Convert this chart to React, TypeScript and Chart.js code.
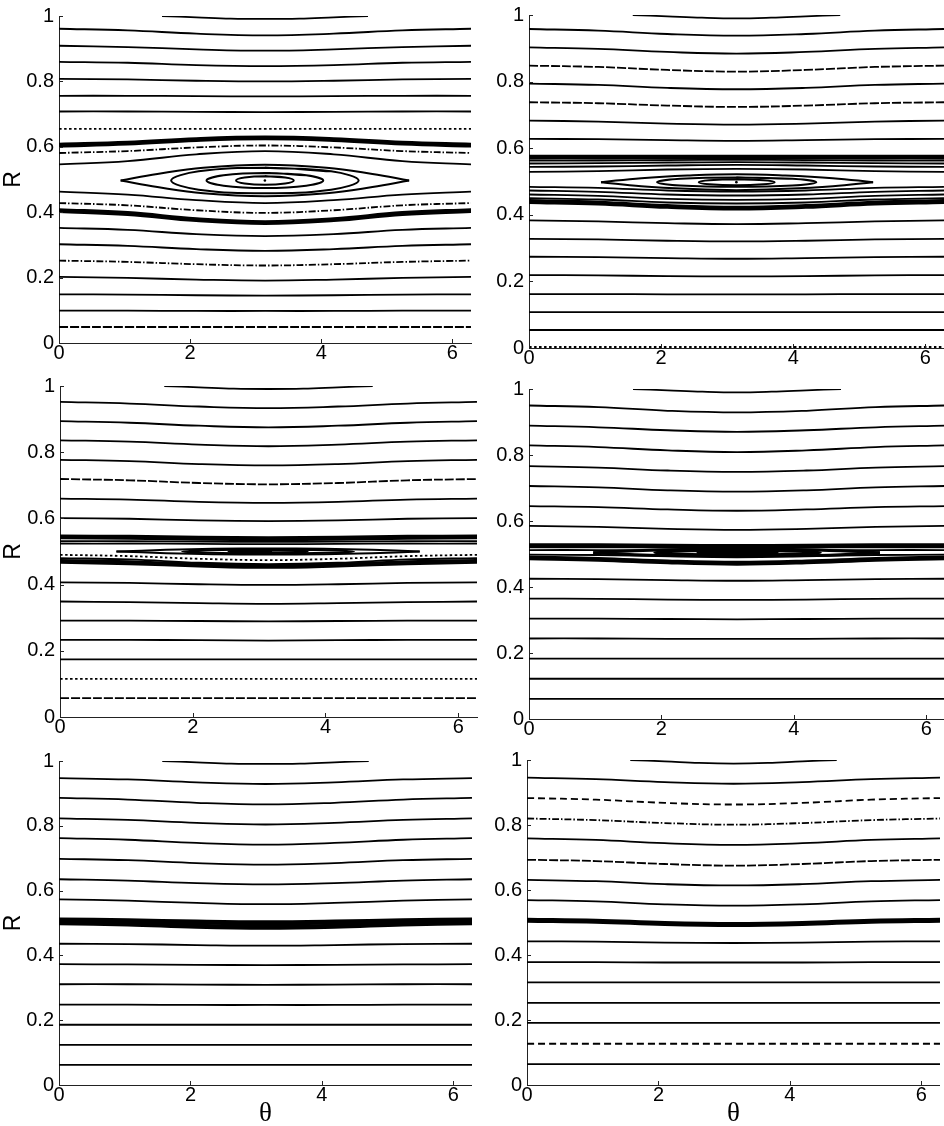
import React, { useEffect, useRef } from 'react';
import { Chart, registerables } from 'chart.js';

Chart.register(...registerables);

// ---------- axes ----------
const TWO_PI = 6.2832;
const X_TICKS = [0, 2, 4, 6];
const X_TICK_LABELS = ['0', '2', '4', '6'];
const Y_TICKS = [0, 0.2, 0.4, 0.6, 0.8, 1];
const Y_TICK_LABELS = ['0', '0.2', '0.4', '0.6', '0.8', '1'];
const Y_TITLE = 'R';
const X_TITLE = 'θ';

// sample angles for the open curves and for the short arc near R = 1
const THETA_LINE = [0, 1.047, 2.094, 3.142, 4.189, 5.236, 6.283];
const THETA_ARC = [1.571, 2.094, 2.618, 3.142, 3.665, 4.189, 4.712];

type Pt = [number, number];

// ---------- panel (a) top-left ----------
const TL_ARC = [1.0, 0.996, 0.992, 0.991, 0.992, 0.996, 1.0];
const TL_SOLID = [
  [0.961, 0.956, 0.946, 0.941, 0.946, 0.956, 0.961],
  [0.909, 0.905, 0.898, 0.894, 0.898, 0.905, 0.909],
  [0.86, 0.857, 0.85, 0.847, 0.85, 0.857, 0.86],
  [0.808, 0.806, 0.802, 0.8, 0.802, 0.806, 0.808],
  [0.756, 0.756, 0.755, 0.754, 0.755, 0.756, 0.756],
  [0.708, 0.708, 0.707, 0.706, 0.707, 0.708, 0.708],
  [0.546, 0.556, 0.577, 0.587, 0.577, 0.556, 0.546],
  [0.463, 0.454, 0.437, 0.428, 0.437, 0.454, 0.463],
  [0.352, 0.346, 0.333, 0.327, 0.333, 0.346, 0.352],
  [0.302, 0.297, 0.287, 0.282, 0.287, 0.297, 0.302],
  [0.202, 0.199, 0.194, 0.191, 0.194, 0.199, 0.202],
  [0.149, 0.148, 0.146, 0.145, 0.146, 0.148, 0.149],
  [0.099, 0.099, 0.098, 0.098, 0.098, 0.099, 0.099],
];
const TL_DOTTED = [[0.655, 0.655, 0.655, 0.655, 0.655, 0.655, 0.655]];
const TL_DASHDOT = [
  [0.581, 0.587, 0.598, 0.604, 0.598, 0.587, 0.581],
  [0.428, 0.421, 0.406, 0.398, 0.406, 0.421, 0.428],
  [0.252, 0.248, 0.241, 0.237, 0.241, 0.248, 0.252],
];
const TL_FINE = [
  [0.049, 0.049, 0.049, 0.049, 0.049, 0.049, 0.049],
];
const TL_THICK = [
  [0.605, 0.611, 0.622, 0.627, 0.622, 0.611, 0.605],
  [0.405, 0.396, 0.377, 0.368, 0.377, 0.396, 0.405],
];
const TL_LENS_UP: Pt[] = [[0.94, 0.497], [1.5, 0.517], [2.2, 0.536], [3.14, 0.545], [4.08, 0.536], [4.78, 0.517], [5.34, 0.497]];
const TL_LENS_DOWN: Pt[] = [[0.94, 0.497], [1.5, 0.477], [2.2, 0.458], [3.14, 0.449], [4.08, 0.458], [4.78, 0.477], [5.34, 0.497]];
const TL_ORBIT_A: Pt[] = [[3.14, 0.536], [4.15, 0.525], [4.57, 0.497], [4.15, 0.469], [3.14, 0.458], [2.13, 0.469], [1.71, 0.497], [2.13, 0.525], [3.14, 0.536], [4.15, 0.525]];
const TL_ORBIT_B: Pt[] = [[3.14, 0.52], [3.77, 0.513], [4.03, 0.497], [3.77, 0.481], [3.14, 0.474], [2.51, 0.481], [2.25, 0.497], [2.51, 0.513], [3.14, 0.52], [3.77, 0.513]];
const TL_ORBIT_C: Pt[] = [[3.14, 0.51], [3.45, 0.506], [3.58, 0.497], [3.45, 0.488], [3.14, 0.484], [2.83, 0.488], [2.7, 0.497], [2.83, 0.506], [3.14, 0.51], [3.45, 0.506]];
const TL_CENTER: Pt[] = [[3.14, 0.497]];

// ---------- panel (b) top-right ----------
const TR_ARC = [1.0, 0.996, 0.992, 0.99, 0.992, 0.996, 1.0];
const TR_SOLID = [
  [0.958, 0.953, 0.943, 0.938, 0.943, 0.953, 0.958],
  [0.903, 0.898, 0.889, 0.884, 0.889, 0.898, 0.903],
  [0.794, 0.79, 0.781, 0.777, 0.781, 0.79, 0.794],
  [0.683, 0.68, 0.674, 0.671, 0.674, 0.68, 0.683],
  [0.628, 0.627, 0.624, 0.622, 0.624, 0.627, 0.628],
  [0.563, 0.563, 0.564, 0.565, 0.564, 0.563, 0.563],
  [0.554, 0.555, 0.557, 0.558, 0.557, 0.555, 0.554],
  [0.544, 0.545, 0.548, 0.55, 0.548, 0.545, 0.544],
  [0.529, 0.531, 0.536, 0.538, 0.536, 0.531, 0.529],
  [0.484, 0.481, 0.473, 0.47, 0.473, 0.481, 0.484],
  [0.473, 0.469, 0.461, 0.458, 0.461, 0.469, 0.473],
  [0.461, 0.457, 0.448, 0.445, 0.448, 0.457, 0.461],
  [0.45, 0.446, 0.437, 0.434, 0.437, 0.446, 0.45],
  [0.383, 0.38, 0.375, 0.372, 0.375, 0.38, 0.383],
  [0.328, 0.326, 0.322, 0.32, 0.322, 0.326, 0.328],
  [0.274, 0.273, 0.27, 0.268, 0.27, 0.273, 0.274],
  [0.219, 0.218, 0.216, 0.215, 0.216, 0.218, 0.219],
  [0.162, 0.162, 0.161, 0.161, 0.161, 0.162, 0.162],
  [0.108, 0.108, 0.108, 0.108, 0.108, 0.108, 0.108],
  [0.054, 0.054, 0.054, 0.054, 0.054, 0.054, 0.054],
];
const TR_FINE = [
  [0.848, 0.844, 0.835, 0.83, 0.835, 0.844, 0.848],
  [0.738, 0.735, 0.728, 0.724, 0.728, 0.735, 0.738],
];
const TR_DOTTED = [[0.003, 0.003, 0.003, 0.003, 0.003, 0.003, 0.003]];
const TR_THICK = [
  [0.573, 0.573, 0.573, 0.573, 0.573, 0.573, 0.573],
  [0.44, 0.435, 0.425, 0.42, 0.425, 0.435, 0.44],
];
const TR_LENS_UP: Pt[] = [[1.09, 0.498], [1.7, 0.51], [2.4, 0.518], [3.14, 0.522], [3.88, 0.518], [4.6, 0.51], [5.21, 0.498]];
const TR_LENS_DOWN: Pt[] = [[1.09, 0.498], [1.7, 0.486], [2.4, 0.478], [3.14, 0.474], [3.88, 0.478], [4.6, 0.486], [5.21, 0.498]];
const TR_ORBIT_A: Pt[] = [[3.14, 0.512], [3.99, 0.508], [4.35, 0.498], [3.99, 0.488], [3.14, 0.484], [2.29, 0.488], [1.94, 0.498], [2.29, 0.508], [3.14, 0.512], [3.99, 0.508]];
const TR_ORBIT_B: Pt[] = [[3.14, 0.507], [3.55, 0.504], [3.72, 0.498], [3.55, 0.492], [3.14, 0.489], [2.73, 0.492], [2.57, 0.498], [2.73, 0.504], [3.14, 0.507], [3.55, 0.504]];
const TR_CENTER: Pt[] = [[3.14, 0.498]];

// ---------- panel (c) middle-left ----------
const ML_ARC = [1.0, 0.996, 0.992, 0.991, 0.992, 0.996, 1.0];
const ML_SOLID = [
  [0.952, 0.947, 0.938, 0.933, 0.938, 0.947, 0.952],
  [0.894, 0.889, 0.88, 0.875, 0.88, 0.889, 0.894],
  [0.836, 0.832, 0.823, 0.818, 0.823, 0.832, 0.836],
  [0.777, 0.773, 0.764, 0.76, 0.764, 0.773, 0.777],
  [0.66, 0.657, 0.65, 0.647, 0.65, 0.657, 0.66],
  [0.601, 0.599, 0.594, 0.592, 0.594, 0.599, 0.601],
  [0.531, 0.531, 0.53, 0.529, 0.53, 0.531, 0.531],
  [0.524, 0.524, 0.523, 0.522, 0.523, 0.524, 0.524],
  [0.48, 0.476, 0.466, 0.462, 0.466, 0.476, 0.48],
  [0.407, 0.405, 0.401, 0.399, 0.401, 0.405, 0.407],
  [0.349, 0.347, 0.344, 0.342, 0.344, 0.347, 0.349],
  [0.291, 0.291, 0.29, 0.289, 0.29, 0.291, 0.291],
  [0.233, 0.233, 0.232, 0.231, 0.232, 0.233, 0.233],
  [0.174, 0.174, 0.174, 0.174, 0.174, 0.174, 0.174],
];
const ML_FINE = [
  [0.719, 0.715, 0.707, 0.703, 0.707, 0.715, 0.719],
  [0.057, 0.057, 0.057, 0.057, 0.057, 0.057, 0.057],
];
const ML_DOTTED = [
  [0.49, 0.486, 0.478, 0.474, 0.478, 0.486, 0.49],
  [0.115, 0.115, 0.115, 0.115, 0.115, 0.115, 0.115],
];
const ML_THICK = [
  [0.544, 0.543, 0.54, 0.539, 0.54, 0.543, 0.544],
  [0.47, 0.466, 0.459, 0.455, 0.459, 0.466, 0.47],
];
const ML_LENS_UP: Pt[] = [[0.85, 0.5], [1.6, 0.505], [2.3, 0.508], [3.14, 0.509], [3.98, 0.508], [4.7, 0.505], [5.42, 0.5]];
const ML_LENS_DOWN: Pt[] = [[0.85, 0.5], [1.6, 0.495], [2.3, 0.492], [3.14, 0.491], [3.98, 0.492], [4.7, 0.495], [5.42, 0.5]];
const ML_ORBIT_A: Pt[] = [[3.14, 0.506], [4.06, 0.504], [4.43, 0.5], [4.06, 0.496], [3.14, 0.494], [2.22, 0.496], [1.84, 0.5], [2.22, 0.504], [3.14, 0.506], [4.06, 0.504]];
const ML_ORBIT_B: Pt[] = [[3.14, 0.504], [3.56, 0.503], [3.73, 0.5], [3.56, 0.497], [3.14, 0.496], [2.72, 0.497], [2.54, 0.5], [2.72, 0.503], [3.14, 0.504], [3.56, 0.503]];
const ML_CENTER: Pt[] = [[3.14, 0.5]];

// ---------- panel (d) middle-right ----------
const MR_ARC = [1.0, 0.996, 0.992, 0.99, 0.992, 0.996, 1.0];
const MR_SOLID = [
  [0.95, 0.945, 0.934, 0.929, 0.934, 0.945, 0.95],
  [0.889, 0.884, 0.875, 0.87, 0.875, 0.884, 0.889],
  [0.829, 0.824, 0.814, 0.809, 0.814, 0.824, 0.829],
  [0.766, 0.762, 0.753, 0.749, 0.753, 0.762, 0.766],
  [0.706, 0.702, 0.693, 0.689, 0.693, 0.702, 0.706],
  [0.645, 0.642, 0.635, 0.631, 0.635, 0.642, 0.645],
  [0.585, 0.582, 0.576, 0.573, 0.576, 0.582, 0.585],
  [0.512, 0.512, 0.511, 0.51, 0.511, 0.512, 0.512],
  [0.498, 0.497, 0.494, 0.493, 0.494, 0.497, 0.498],
  [0.425, 0.424, 0.421, 0.419, 0.421, 0.424, 0.425],
  [0.365, 0.364, 0.362, 0.361, 0.362, 0.364, 0.365],
  [0.304, 0.304, 0.303, 0.302, 0.303, 0.304, 0.304],
  [0.244, 0.244, 0.243, 0.243, 0.243, 0.244, 0.244],
  [0.183, 0.183, 0.183, 0.183, 0.183, 0.183, 0.183],
  [0.122, 0.122, 0.122, 0.122, 0.122, 0.122, 0.122],
  [0.061, 0.061, 0.061, 0.061, 0.061, 0.061, 0.061],
];
const MR_THICK = [
  [0.525, 0.525, 0.524, 0.523, 0.524, 0.525, 0.525],
  [0.488, 0.484, 0.476, 0.472, 0.476, 0.484, 0.488],
];
const MR_LENS_UP: Pt[] = [[0.97, 0.504], [1.6, 0.51], [2.3, 0.514], [3.14, 0.516], [3.98, 0.514], [4.7, 0.51], [5.3, 0.504]];
const MR_LENS_DOWN: Pt[] = [[0.97, 0.504], [1.6, 0.498], [2.3, 0.494], [3.14, 0.492], [3.98, 0.494], [4.7, 0.498], [5.3, 0.504]];
const MR_ORBIT_A: Pt[] = [[3.14, 0.511], [4.02, 0.509], [4.4, 0.504], [4.02, 0.499], [3.14, 0.497], [2.26, 0.499], [1.9, 0.504], [2.26, 0.509], [3.14, 0.511], [4.02, 0.509]];
const MR_ORBIT_B: Pt[] = [[3.14, 0.508], [3.56, 0.507], [3.75, 0.504], [3.56, 0.501], [3.14, 0.5], [2.72, 0.501], [2.55, 0.504], [2.72, 0.507], [3.14, 0.508], [3.56, 0.507]];

// ---------- panel (e) bottom-left ----------
const BL_ARC = [1.0, 0.996, 0.992, 0.991, 0.992, 0.996, 1.0];
const BL_SOLID = [
  [0.947, 0.943, 0.934, 0.929, 0.934, 0.943, 0.947],
  [0.886, 0.881, 0.871, 0.866, 0.871, 0.881, 0.886],
  [0.823, 0.818, 0.809, 0.804, 0.809, 0.818, 0.823],
  [0.762, 0.757, 0.747, 0.742, 0.747, 0.757, 0.762],
  [0.698, 0.694, 0.685, 0.68, 0.685, 0.694, 0.698],
  [0.635, 0.631, 0.623, 0.619, 0.623, 0.631, 0.635],
  [0.573, 0.569, 0.562, 0.558, 0.562, 0.569, 0.573],
  [0.436, 0.435, 0.432, 0.43, 0.432, 0.435, 0.436],
  [0.373, 0.372, 0.371, 0.37, 0.371, 0.372, 0.373],
  [0.311, 0.311, 0.31, 0.309, 0.31, 0.311, 0.311],
  [0.248, 0.248, 0.247, 0.247, 0.247, 0.248, 0.248],
  [0.186, 0.186, 0.186, 0.186, 0.186, 0.186, 0.186],
  [0.124, 0.124, 0.124, 0.124, 0.124, 0.124, 0.124],
  [0.062, 0.062, 0.062, 0.062, 0.062, 0.062, 0.062],
];
const BL_THICK = [
  [0.509, 0.507, 0.503, 0.501, 0.503, 0.507, 0.509],
  [0.501, 0.497, 0.49, 0.487, 0.49, 0.497, 0.501],
];

// ---------- panel (f) bottom-right ----------
const BR_ARC = [1.0, 0.996, 0.991, 0.989, 0.991, 0.996, 1.0];
const BR_SOLID = [
  [0.946, 0.941, 0.932, 0.927, 0.932, 0.941, 0.946],
  [0.759, 0.754, 0.744, 0.739, 0.744, 0.754, 0.759],
  [0.631, 0.627, 0.618, 0.614, 0.618, 0.627, 0.631],
  [0.569, 0.565, 0.556, 0.552, 0.556, 0.565, 0.569],
  [0.442, 0.441, 0.438, 0.437, 0.438, 0.441, 0.442],
  [0.378, 0.378, 0.377, 0.377, 0.377, 0.378, 0.378],
  [0.316, 0.316, 0.316, 0.316, 0.316, 0.316, 0.316],
  [0.253, 0.253, 0.253, 0.253, 0.253, 0.253, 0.253],
  [0.191, 0.191, 0.191, 0.191, 0.191, 0.191, 0.191],
  [0.064, 0.064, 0.064, 0.064, 0.064, 0.064, 0.064],
];
const BR_DASHED = [
  [0.883, 0.878, 0.868, 0.863, 0.868, 0.878, 0.883],
  [0.127, 0.127, 0.127, 0.127, 0.127, 0.127, 0.127],
];
const BR_FINE = [[0.693, 0.689, 0.68, 0.675, 0.68, 0.689, 0.693]];
const BR_DASHDOT = [[0.82, 0.815, 0.806, 0.801, 0.806, 0.815, 0.82]];
const BR_THICK = [[0.507, 0.504, 0.497, 0.494, 0.497, 0.504, 0.507]];

// ---------- styling ----------
const INK = '#000';
const AXIS = '#222';
const THIN = 1.8;
const THICK = 4.8;
const DASH_SOLID: number[] = [];
const DASH_FINE = [9, 2];
const DASH_DOT = [2.5, 2.5];
const DASH_DASH = [7, 4];
const DASH_DASHDOT = [7, 2, 1.5, 2];
const TICK_FONT = { family: '"Liberation Sans", Arial, Helvetica, sans-serif', size: 20, lineHeight: 1.0 };
const R_FONT = { family: '"Liberation Sans", Arial, Helvetica, sans-serif', size: 23, lineHeight: 1.2 };
const THETA_FONT = { family: '"Liberation Serif", "Times New Roman", serif', size: 27, lineHeight: 0.9 };

function curveSet(thetas: number[], values: number[], width: number, dash: number[]) {
  return {
    data: thetas.map((t, i) => ({ x: t, y: values[i] })),
    showLine: true,
    borderColor: INK,
    backgroundColor: INK,
    borderWidth: width,
    borderDash: dash,
    borderCapStyle: width > 3 ? 'round' : 'butt',
    borderJoinStyle: 'round',
    pointRadius: 0,
    pointHoverRadius: 0,
    tension: 0.4,
    fill: false,
  };
}
const rows = (rs: number[][], width: number, dash: number[]) => rs.map((r) => curveSet(THETA_LINE, r, width, dash));
const arc = (r: number[]) => curveSet(THETA_ARC, r, THIN, DASH_SOLID);
const path = (pts: Pt[], width: number) => curveSet(pts.map((p) => p[0]), pts.map((p) => p[1]), width, DASH_SOLID);
const dot = (pts: Pt[]) => ({
  data: pts.map(([x, y]) => ({ x, y })),
  showLine: false,
  pointRadius: 1.3,
  pointBackgroundColor: INK,
  pointBorderWidth: 0,
  borderColor: INK,
});

interface PanelSpec {
  left: number; top: number; right: number; bottom: number;
  yTitle: boolean; xTitle: boolean;
  build: () => any[];
}

const PANELS: PanelSpec[] = [
  {
    left: 59, top: 13, right: 475, bottom: 343, yTitle: true, xTitle: false,
    build: () => [
      arc(TL_ARC),
      ...rows(TL_SOLID, THIN, DASH_SOLID),
      ...rows(TL_DOTTED, THIN, DASH_DOT),
      ...rows(TL_DASHDOT, THIN, DASH_DASHDOT),
      ...rows(TL_FINE, THIN, DASH_FINE),
      ...rows(TL_THICK, THICK, DASH_SOLID),
      path(TL_LENS_UP, 2), path(TL_LENS_DOWN, 2),
      path(TL_ORBIT_A, 2), path(TL_ORBIT_B, 2), path(TL_ORBIT_C, 2),
      dot(TL_CENTER),
    ],
  },
  {
    left: 529, top: 12, right: 948, bottom: 348, yTitle: false, xTitle: false,
    build: () => [
      arc(TR_ARC),
      ...rows(TR_SOLID, THIN, DASH_SOLID),
      ...rows(TR_FINE, THIN, DASH_FINE),
      ...rows(TR_DOTTED, THIN, DASH_DOT),
      ...rows(TR_THICK, THICK, DASH_SOLID),
      path(TR_LENS_UP, 2), path(TR_LENS_DOWN, 2),
      path(TR_ORBIT_A, 2), path(TR_ORBIT_B, 2),
      dot(TR_CENTER),
    ],
  },
  {
    left: 60, top: 383, right: 481, bottom: 717, yTitle: true, xTitle: false,
    build: () => [
      arc(ML_ARC),
      ...rows(ML_SOLID, THIN, DASH_SOLID),
      ...rows(ML_FINE, THIN, DASH_FINE),
      ...rows(ML_DOTTED, THIN, DASH_DOT),
      ...rows(ML_THICK, THICK, DASH_SOLID),
      path(ML_LENS_UP, 2), path(ML_LENS_DOWN, 2),
      path(ML_ORBIT_A, 2), path(ML_ORBIT_B, 2.4),
      dot(ML_CENTER),
    ],
  },
  {
    left: 529, top: 386, right: 945, bottom: 719, yTitle: false, xTitle: false,
    build: () => [
      arc(MR_ARC),
      ...rows(MR_SOLID, THIN, DASH_SOLID),
      ...rows(MR_THICK, THICK, DASH_SOLID),
      path(MR_LENS_UP, 3), path(MR_LENS_DOWN, 3),
      path(MR_ORBIT_A, 3), path(MR_ORBIT_B, 3),
    ],
  },
  {
    left: 59, top: 758, right: 472, bottom: 1085, yTitle: true, xTitle: true,
    build: () => [
      arc(BL_ARC),
      ...rows(BL_SOLID, THIN, DASH_SOLID),
      ...rows(BL_THICK, 5, DASH_SOLID),
    ],
  },
  {
    left: 527, top: 757, right: 940, bottom: 1085, yTitle: false, xTitle: true,
    build: () => [
      arc(BR_ARC),
      ...rows(BR_SOLID, THIN, DASH_SOLID),
      ...rows(BR_DASHED, THIN, DASH_DASH),
      ...rows(BR_FINE, THIN, DASH_FINE),
      ...rows(BR_DASHDOT, THIN, DASH_DASHDOT),
      ...rows(BR_THICK, 5, DASH_SOLID),
    ],
  },
];

const inwardTicks = {
  id: 'inwardTicks',
  afterDraw(chart: any) {
    const { ctx, chartArea, scales } = chart;
    ctx.save();
    ctx.strokeStyle = AXIS;
    ctx.lineWidth = 1;
    ctx.beginPath();
    scales.y.ticks.forEach((t: any) => {
      const y = Math.round(scales.y.getPixelForValue(t.value)) + 0.5;
      ctx.moveTo(chartArea.left, y);
      ctx.lineTo(chartArea.left + 4, y);
    });
    scales.x.ticks.forEach((t: any) => {
      const x = Math.round(scales.x.getPixelForValue(t.value)) + 0.5;
      ctx.moveTo(x, chartArea.bottom);
      ctx.lineTo(x, chartArea.bottom - 4);
    });
    ctx.stroke();
    ctx.restore();
  },
};

const TOP_PAD = 12;

function Panel({ spec }: { spec: PanelSpec }) {
  const ref = useRef<HTMLCanvasElement>(null);
  const lw = spec.yTitle ? spec.left : 50;
  const bh = spec.xTitle ? 1126 - spec.bottom : 30;
  const w = lw + (spec.right - spec.left);
  const h = TOP_PAD + (spec.bottom - spec.top) + bh;

  useEffect(() => {
    if (!ref.current) return;
    const chart = new Chart(ref.current, {
      type: 'scatter',
      data: { datasets: spec.build() },
      options: {
        animation: false,
        responsive: false,
        events: [],
        layout: { padding: { top: TOP_PAD, left: 0, right: 0, bottom: 0 } },
        plugins: { legend: { display: false }, tooltip: { enabled: false } },
        scales: {
          x: {
            type: 'linear',
            position: 'bottom',
            min: 0,
            max: TWO_PI,
            grid: { display: false, drawTicks: false },
            border: { display: true, color: AXIS, width: 1 },
            ticks: {
              font: TICK_FONT, color: INK, padding: 0, autoSkip: false, maxRotation: 0, minRotation: 0,
              callback: (_v: any, i: number) => X_TICK_LABELS[i],
            },
            afterBuildTicks: (s: any) => { s.ticks = X_TICKS.map((v) => ({ value: v })); },
            afterFit: (s: any) => { s.height = bh; },
            title: spec.xTitle
              ? { display: true, text: X_TITLE, color: INK, font: THETA_FONT, padding: { top: 0, bottom: 0 } }
              : { display: false },
          },
          y: {
            type: 'linear',
            position: 'left',
            min: 0,
            max: 1,
            grid: { display: false, drawTicks: false },
            border: { display: true, color: AXIS, width: 1 },
            ticks: {
              font: TICK_FONT, color: INK, padding: 5, autoSkip: false,
              callback: (_v: any, i: number) => Y_TICK_LABELS[i],
            },
            afterBuildTicks: (s: any) => { s.ticks = Y_TICKS.map((v) => ({ value: v })); },
            afterFit: (s: any) => { s.width = lw; },
            title: spec.yTitle
              ? { display: true, text: Y_TITLE, color: INK, font: R_FONT, padding: { top: 0, bottom: 0 } }
              : { display: false },
          },
        },
      } as any,
      plugins: [inwardTicks],
    });
    return () => chart.destroy();
  }, []);

  return (
    <canvas
      ref={ref}
      width={w}
      height={h}
      style={{ position: 'absolute', left: spec.left - lw, top: spec.top - TOP_PAD, width: w, height: h }}
    />
  );
}

export default function App() {
  return (
    <div
      style={{
        position: 'fixed', left: 0, top: 0, width: 944, height: 1126,
        overflow: 'hidden', background: '#fff',
      }}
    >
      {PANELS.map((p, i) => <Panel key={i} spec={p} />)}
    </div>
  );
}
